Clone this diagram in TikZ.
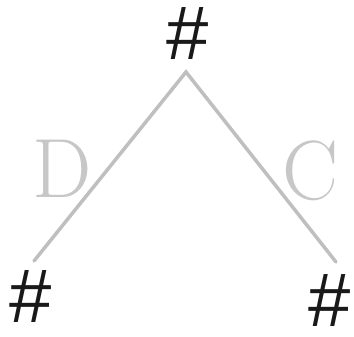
\documentclass[tikz,border=0pt]{standalone}
\usepackage{fontspec}
\newfontfamily\hashfont{Liberation Sans}
\usetikzlibrary{positioning}

\begin{document}
\begin{tikzpicture}[
  x=1pt,y=-1pt,
  hash/.style={font=\hashfont\fontsize{76}{78}\selectfont,inner sep=0pt,text=black!90},
  edgelabel/.style={font=\fontsize{84}{86}\selectfont,inner sep=0pt,text=black!22},
  branch/.style={draw=black!25,line width=3.5pt,line cap=round}
]
  \useasboundingbox (0,0) rectangle (354,337);

  \coordinate (apex) at (186,72);
  \coordinate (left-end) at (34,261);
  \coordinate (right-end) at (336,262);

  \node[hash] (top-hash) at (188,34) {\#};
  \node[hash] (left-hash) at (31,297) {\#};
  \node[hash] (right-hash) at (330,301) {\#};

  \draw[branch] (left-end) -- (apex) -- (right-end);

  \node[edgelabel] (label-d) at (62,169) {D};
  \node[edgelabel] (label-c) at (311,171) {C};
\end{tikzpicture}
\end{document}
